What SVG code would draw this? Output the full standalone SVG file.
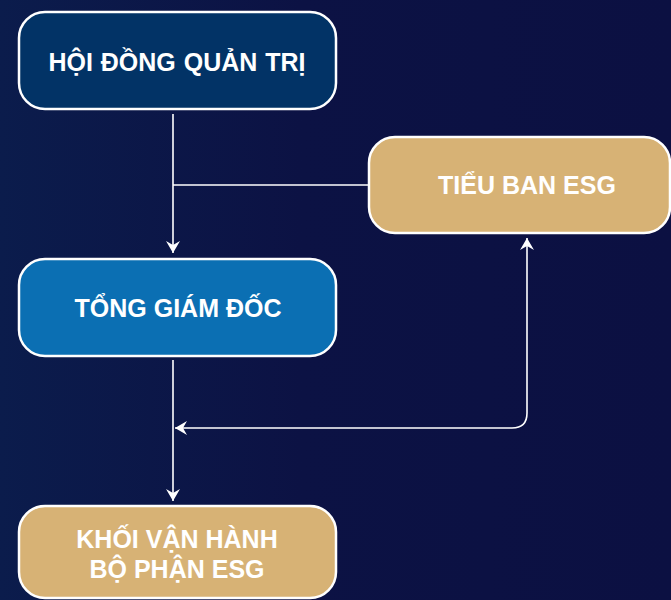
<svg xmlns="http://www.w3.org/2000/svg" width="671" height="600" viewBox="0 0 671 600">
  <defs>
    <linearGradient id="bg" x1="0" y1="0" x2="1" y2="0">
      <stop offset="0" stop-color="#0b1c4c"/>
      <stop offset="0.45" stop-color="#0c1244"/>
      <stop offset="1" stop-color="#0c1042"/>
    </linearGradient>
    <marker id="arr" markerUnits="userSpaceOnUse" viewBox="0 0 12 14" refX="12" refY="7" markerWidth="12" markerHeight="14" orient="auto-start-reverse">
      <path d="M0,0 L12,7 L0,14 L4,7 Z" fill="#ffffff"/>
    </marker>
    <style>
      .box { stroke: #ffffff; stroke-width: 2.5; }
      .navy { fill: #023366; }
      .blue { fill: #0b6fb3; }
      .gold { fill: #d7b275; }
      .lbl { font-family: "Liberation Sans", Arial, sans-serif; font-weight: bold; font-size: 25px; fill: #ffffff; text-anchor: middle; }
      .conn { fill: none; stroke: #ffffff; stroke-width: 1.6; }
    </style>
  </defs>
  <rect x="0" y="0" width="671" height="600" fill="url(#bg)"/>

  <g id="connectors">
    <path class="conn" d="M173,114 V253" marker-end="url(#arr)"/>
    <path class="conn" d="M370,185 H173"/>
    <path class="conn" d="M173,360 V501" marker-end="url(#arr)"/>
    <path class="conn" d="M175,428 H512 Q527,428 527,413 V238" marker-start="url(#arr)" marker-end="url(#arr)"/>
  </g>

  <g id="hoi-dong-quan-tri">
    <rect class="box navy" x="19" y="12" width="317" height="97" rx="26" ry="26"/>
    <text class="lbl" x="177" y="71" word-spacing="1">HỘI ĐỒNG QUẢN TRỊ</text>
  </g>

  <g id="tieu-ban-esg">
    <rect class="box gold" x="369" y="137" width="301" height="96" rx="26" ry="26"/>
    <text class="lbl" x="527" y="194">TIỂU BAN ESG</text>
  </g>

  <g id="tong-giam-doc">
    <rect class="box blue" x="19" y="259" width="317" height="97" rx="26" ry="26"/>
    <text class="lbl" x="178" y="317">TỔNG GIÁM ĐỐC</text>
  </g>

  <g id="khoi-van-hanh">
    <rect class="box gold" x="19" y="506" width="317" height="92" rx="26" ry="26"/>
    <text class="lbl" x="177" y="548">KHỐI VẬN HÀNH</text>
    <text class="lbl" x="177" y="578">BỘ PHẬN ESG</text>
  </g>
</svg>
